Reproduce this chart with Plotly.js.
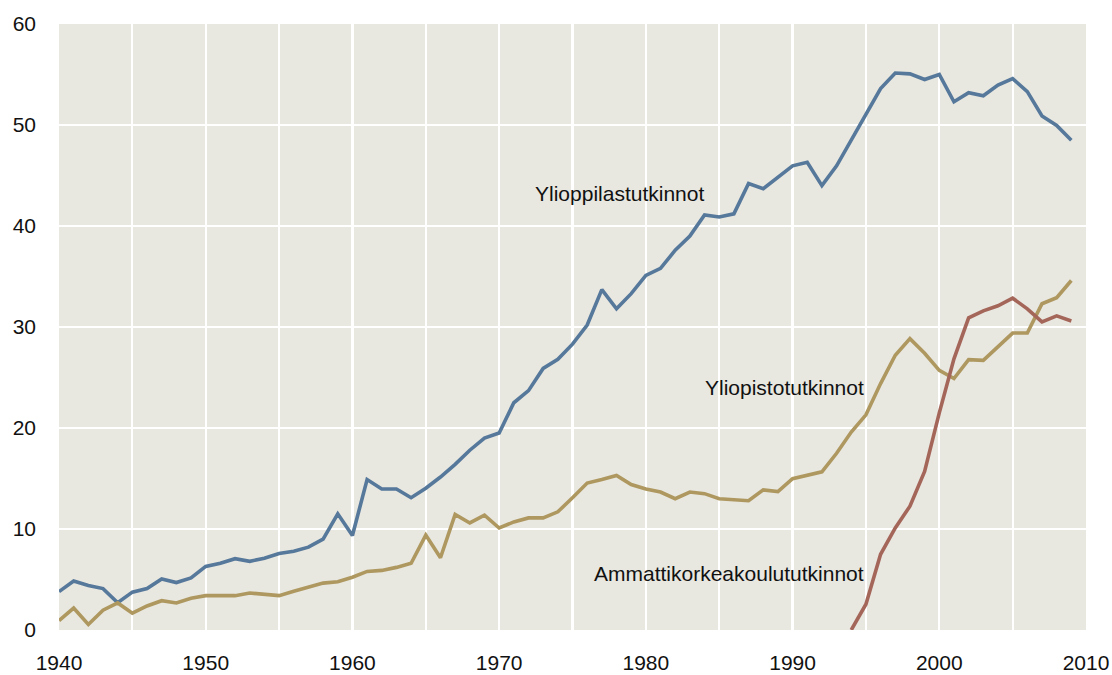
<!DOCTYPE html>
<html>
<head>
<meta charset="utf-8">
<script src="https://cdn.plot.ly/plotly-3.0.1.min.js"></script>
<style>html,body{margin:0;padding:0;background:#fff;}#chart{width:1112px;height:675px;}</style>
</head>
<body>
<div id="chart"></div>
<script>
const yearsMain = [];
for (let y = 1940; y <= 2009; y++) yearsMain.push(y);

const ylioppilas = [3.8,4.85,4.4,4.1,2.7,3.75,4.1,5.06,4.7,5.15,
  6.3,6.6,7.06,6.8,7.1,7.57,7.8,8.2,9.0,11.5,
  9.36,14.9,13.96,13.96,13.1,14.04,15.15,16.4,17.8,19.0,
  19.5,22.5,23.7,25.9,26.8,28.3,30.2,33.7,31.8,33.3,
  35.1,35.8,37.6,39.0,41.1,40.9,41.2,44.2,43.7,44.8,
  45.96,46.3,44.0,45.96,48.5,51.1,53.6,55.15,55.06,54.5,
  55.0,52.3,53.2,52.9,53.96,54.6,53.3,50.9,49.96,48.5];

const yliopisto = [0.94,2.17,0.55,1.96,2.68,1.66,2.38,2.9,2.68,3.15,
  3.4,3.4,3.4,3.66,3.5,3.4,3.83,4.26,4.64,4.77,
  5.23,5.8,5.9,6.2,6.6,9.4,7.15,11.45,10.6,11.36,
  10.1,10.7,11.1,11.1,11.7,13.1,14.55,14.9,15.3,14.4,
  13.96,13.66,13.0,13.66,13.5,13.0,12.9,12.8,13.87,13.7,
  14.98,15.28,15.66,17.5,19.6,21.3,24.4,27.2,28.85,27.4,
  25.7,24.9,26.77,26.7,28.1,29.4,29.4,32.3,32.9,34.6];

const yearsAmk = [1994,1995,1996,1997,1998,1999,2000,2001,2002,2003,2004,2005,2006,2007,2008,2009];
const ammattikorkea = [0,2.55,7.5,10.1,12.26,15.7,21.5,26.85,30.9,31.6,32.1,32.85,31.8,30.5,31.1,30.6];

const xTicks = [1940,1950,1960,1970,1980,1990,2000,2010];
const yTicks = [0,10,20,30,40,50,60];

const labelNames = ["Ylioppilastutkinnot","Yliopistotutkinnot","Ammattikorkeakoulututkinnot"];

const lineW = 3.6;
const traces = [
  {x: yearsMain, y: ylioppilas, mode: 'lines', line: {color: '#56789a', width: lineW}, name: labelNames[0]},
  {x: yearsMain, y: yliopisto, mode: 'lines', line: {color: '#ae9860', width: lineW}, name: labelNames[1]},
  {x: yearsAmk, y: ammattikorkea, mode: 'lines', line: {color: '#a5665a', width: lineW}, name: labelNames[2]}
];

const fontFam = 'Liberation Sans, Arial, sans-serif';
const layout = {
  width: 1112, height: 675,
  margin: {l: 59, r: 25.5, t: 24, b: 45},
  paper_bgcolor: '#ffffff',
  plot_bgcolor: '#e8e7e0',
  showlegend: false,
  font: {family: fontFam, color: '#111111', size: 21},
  xaxis: {
    range: [1940, 2010], tickvals: xTicks, ticktext: xTicks.map(String),
    showgrid: true, gridcolor: '#ffffff', gridwidth: 2.2,
    minor: {dtick: 5, showgrid: true, gridcolor: '#ffffff', gridwidth: 2.2},
    zeroline: false, showline: false, ticks: '', ticklen: 0,
    ticklabelstandoff: 18,
    tickfont: {size: 21, family: fontFam, color: '#111'}
  },
  yaxis: {
    range: [0, 60], tickvals: yTicks, ticktext: yTicks.map(String),
    showgrid: true, gridcolor: '#ffffff', gridwidth: 2.2,
    zeroline: false, showline: false, ticks: '', ticklen: 0,
    ticklabelstandoff: 22,
    tickfont: {size: 21, family: fontFam, color: '#111'}
  },
  annotations: [
    {x: 1978.2, y: 43.2, text: labelNames[0], showarrow: false, xanchor: 'center', yanchor: 'middle', font: {size: 21, family: fontFam, color: '#111'}},
    {x: 1995.0, y: 24.0, text: labelNames[1], showarrow: false, xanchor: 'right', yanchor: 'middle', font: {size: 21, family: fontFam, color: '#111'}},
    {x: 1995.0, y: 5.64, text: labelNames[2], showarrow: false, xanchor: 'right', yanchor: 'middle', font: {size: 21, family: fontFam, color: '#111'}}
  ]
};

Plotly.newPlot('chart', traces, layout, {displayModeBar: false, staticPlot: true});
</script>
</body>
</html>
